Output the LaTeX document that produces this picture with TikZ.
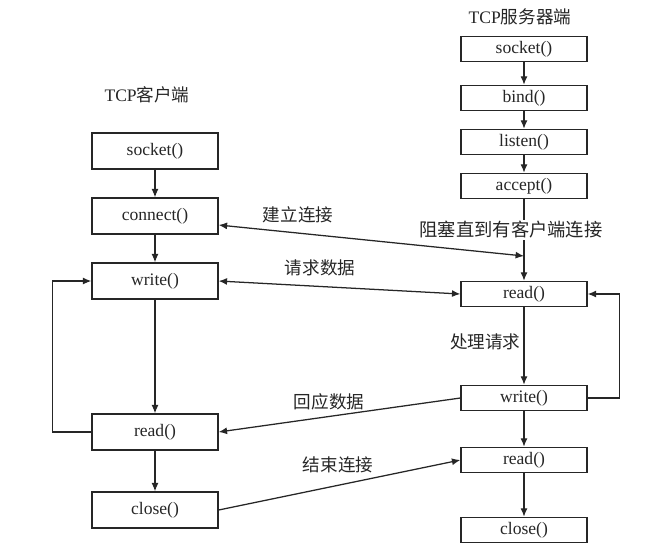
\documentclass[tikz,border=0pt]{standalone}
\usepackage{fontspec}
\setmainfont{Liberation Serif}
\newfontfamily\cjk{Noto Sans CJK SC}
\usetikzlibrary{positioning, calc, arrows.meta}

\begin{document}
\begin{tikzpicture}[x=0.025cm, y=-0.025cm, >={Latex[length=6pt,width=5pt]}, line width=0.9pt, color=black!85,
    box/.style={draw, minimum width=3.15cm, minimum height=0.9cm, font=\fontsize{12.5}{14}\selectfont},
    sbox/.style={box, minimum height=0.63cm},
    lbl/.style={font=\cjk\fontsize{12.5}{14}\selectfont}]
\useasboundingbox (0,0) rectangle (656,554);

% client side
\node (ct) [lbl] at (147,95) {{\rmfamily TCP}客户端};
\node (c1) [box] at (155,151) {socket()};
\node (c2) [box] at (155,216) {connect()};
\node (c3) [box] at (155,281) {write()};
\node (c4) [box] at (155,432) {read()};
\node (c5) [box] at (155,510) {close()};

% server side
\node (st) [lbl] at (520,17) {{\rmfamily TCP}服务器端};
\node (s1) [sbox] at (524,49) {socket()};
\node (s2) [sbox] at (524,98) {bind()};
\node (s3) [sbox] at (524,142) {listen()};
\node (s4) [sbox] at (524,186) {accept()};
\node (s5) [sbox] at (524,294) {read()};
\node (s6) [sbox] at (524,398) {write()};
\node (s7) [sbox] at (524,460) {read()};
\node (s8) [sbox] at (524,530) {close()};

\draw [->] (c1) -- (c2);
\draw [->] (c2) -- (c3);
\draw [->] (c3) -- (c4);
\draw [->] (c4) -- (c5);
\draw [->] (c4.west) -- ++(-39,0) |- (c3.west);

\draw [->] (s1) -- (s2);
\draw [->] (s2) -- (s3);
\draw [->] (s3) -- (s4);
\draw [->] (s4) -- (s5);
\node (wait) [lbl, fill=white, inner sep=1pt, font=\cjk\fontsize{13}{15}\selectfont] at (511,230) {阻塞直到有客户端连接};
\draw [->] (s5) -- (s6) node (work) [pos=0.45, left, lbl, inner sep=2pt] {处理请求};
\draw [->] (s6) -- (s7);
\draw [->] (s7) -- (s8);
\draw [->] (s6.east) -- ++(32,0) |- (s5.east);

% messages between the two sides
\coordinate (k) at (524,256);
\draw [<->] ($(c2.east)+(0,9)$) -- (k);
\node (l1) [lbl] at (298,215) {建立连接};
\draw [<->] (c3.east) -- (s5.west);
\node (l2) [lbl] at (320,268) {请求数据};
\draw [->] (s6.west) -- (c4.east);
\node (l3) [lbl] at (329,402) {回应数据};
\draw [->] (c5.east) -- (s7.west);
\node (l4) [lbl] at (338,465) {结束连接};
\end{tikzpicture}
\end{document}
